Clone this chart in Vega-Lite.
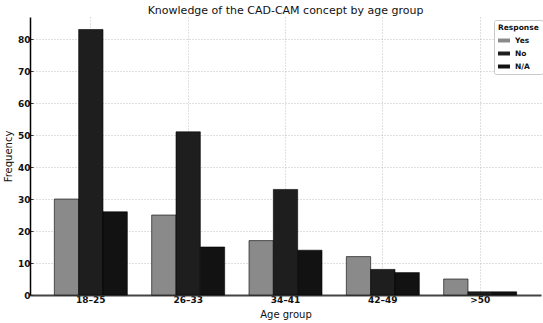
{
  "$schema": "https://vega.github.io/schema/vega-lite/v6.json",
  "width": 511,
  "height": 278,
  "autosize": {"type": "none"},
  "padding": {"left": 30, "top": 17, "right": 2, "bottom": 28},
  "background": "white",
  "title": {
    "text": "Knowledge of the CAD-CAM concept by age group",
    "font": "DejaVu Sans",
    "fontSize": 11,
    "fontWeight": "normal",
    "color": "#111",
    "anchor": "middle",
    "offset": 1
  },
  "config": {
    "view": {"stroke": null},
    "font": "DejaVu Sans"
  },
  "data": {
    "values": [
      {"age": "18–25", "response": "Yes", "count": 30},
      {"age": "18–25", "response": "No", "count": 83},
      {"age": "18–25", "response": "N/A", "count": 26},
      {"age": "26–33", "response": "Yes", "count": 25},
      {"age": "26–33", "response": "No", "count": 51},
      {"age": "26–33", "response": "N/A", "count": 15},
      {"age": "34–41", "response": "Yes", "count": 17},
      {"age": "34–41", "response": "No", "count": 33},
      {"age": "34–41", "response": "N/A", "count": 14},
      {"age": "42–49", "response": "Yes", "count": 12},
      {"age": "42–49", "response": "No", "count": 8},
      {"age": "42–49", "response": "N/A", "count": 7},
      {"age": ">50", "response": "Yes", "count": 5},
      {"age": ">50", "response": "No", "count": 1},
      {"age": ">50", "response": "N/A", "count": 1}
    ]
  },
  "mark": {"type": "bar", "stroke": "#000", "strokeWidth": 0.6},
  "encoding": {
    "x": {
      "field": "age",
      "type": "nominal",
      "sort": ["18–25", "26–33", "34–41", "42–49", ">50"],
      "scale": {"paddingInner": 0.25, "paddingOuter": 0.25},
      "axis": {
        "title": "Age group",
        "titleFontSize": 10,
        "titleFontWeight": "normal",
        "titleColor": "#111",
        "titlePadding": 5,
        "labelAngle": 0,
        "labelFontSize": 9,
        "labelFontWeight": "bold",
        "labelColor": "#111",
        "labelPadding": 3,
        "bandPosition": 0.5,
        "ticks": true,
        "tickSize": -3,
        "tickColor": "#333",
        "domainColor": "#444",
        "domainWidth": 2,
        "grid": true,
        "gridColor": "#b0b0b0",
        "gridDash": [1, 2],
        "gridWidth": 0.8
      }
    },
    "xOffset": {
      "field": "response",
      "sort": ["Yes", "No", "N/A"],
      "scale": {"paddingInner": 0, "paddingOuter": 0}
    },
    "y": {
      "field": "count",
      "type": "quantitative",
      "scale": {"domain": [0, 86.9], "nice": false},
      "axis": {
        "title": "Frequency",
        "titleFontSize": 10,
        "titleFontWeight": "normal",
        "titleColor": "#111",
        "titlePadding": 4,
        "values": [0, 10, 20, 30, 40, 50, 60, 70, 80],
        "labelFontSize": 9,
        "labelFontWeight": "bold",
        "labelColor": "#111",
        "labelPadding": 3,
        "tickSize": -3,
        "tickColor": "#333",
        "domainColor": "#000",
        "domainWidth": 1.5,
        "grid": true,
        "gridColor": "#b0b0b0",
        "gridDash": [1, 2],
        "gridWidth": 0.8
      }
    },
    "color": {
      "field": "response",
      "type": "nominal",
      "sort": ["Yes", "No", "N/A"],
      "scale": {
        "domain": ["Yes", "No", "N/A"],
        "range": ["#8a8a8a", "#1e1e1e", "#121212"]
      },
      "legend": {
        "title": "Response",
        "orient": "none",
        "legendX": 464,
        "legendY": 3,
        "titleFontSize": 7.5,
        "titleFontWeight": "bold",
        "titleColor": "#111",
        "titlePadding": 3,
        "labelFontSize": 7.5,
        "labelFontWeight": "bold",
        "labelColor": "#111",
        "labelOffset": 5,
        "symbolType": "M-1,-0.33H1V0.33H-1Z",
        "symbolSize": 144,
        "symbolStrokeWidth": 0,
        "rowPadding": 3,
        "padding": 4,
        "strokeColor": "#c8c8c8",
        "fillColor": "white",
        "cornerRadius": 2
      }
    }
  }
}
